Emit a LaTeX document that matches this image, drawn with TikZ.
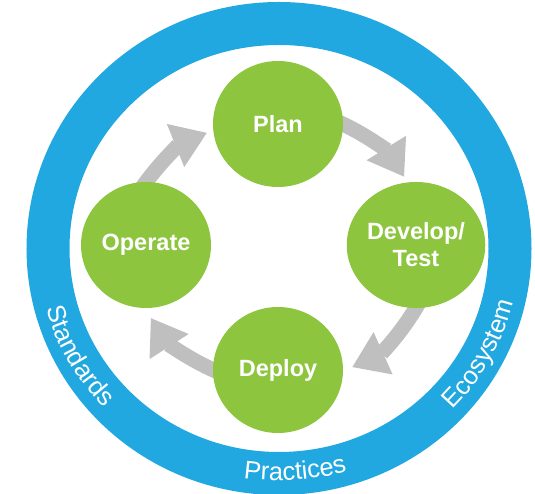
\documentclass[tikz,border=0pt]{standalone}
\usepackage{fontspec}
\setmainfont{Liberation Sans}
\usepackage{tikz}
\usetikzlibrary{arrows.meta,decorations.text,shapes.geometric}
\usepackage{xcolor}
\definecolor{ringblue}{HTML}{22A8E0}
\definecolor{stepgreen}{HTML}{8DC53F}
\definecolor{flowgray}{HTML}{BFBFBF}
\newcommand{\ringfont}{\fontsize{25.5}{25.5}\selectfont}
\pgfdeclarelayer{back}
\pgfsetlayers{back,main}

\begin{document}
\begin{tikzpicture}[x=1pt,y=1pt,
    stepnode/.style={ellipse,fill=stepgreen,text=white,minimum width=130pt,minimum height=126pt,
      inner sep=0pt,align=center,font=\fontsize{23.5}{27}\selectfont\bfseries},
    flow/.style={draw=flowgray,line width=15pt,shorten <=-10pt,-{Triangle[width=44pt,length=34pt]}},
    ringtext/.style={decorate,decoration={text along path,text color=white,text align=center,text={#1}}}]
  \useasboundingbox (0,0) rectangle (535,494);
  \coordinate (hub) at (279,245.5);
  % the four steps
  \node[stepnode] (plan) at (278,370) {Plan};
  \node[stepnode] (develop) at (416,249) {Develop/\\Test};
  \node[stepnode] (deploy) at (278,124) {Deploy};
  \node[stepnode] (operate) at (146,249) {Operate};
  \begin{pgfonlayer}{back}
    % background ring
    \draw[ringblue,line width=43pt] (hub) ellipse [x radius=231pt,y radius=225pt];
    % arrows between the steps
    \foreach \from/\sa/\ea/\r in {plan.east/66.3/31.8/136.2,develop.south/-28.8/-65.8/137.1,
                                  deploy.west/-112.7/-147.3/136.2,operate.north/145.5/112/135.9}
      \draw[flow] (\from) arc[start angle=\sa,end angle=\ea,radius=\r];
  \end{pgfonlayer}
  % words on the ring
  \path[ringtext={|\ringfont|Standards}] (hub) ++(179:241pt and 232pt)
    arc[start angle=179,end angle=239,x radius=241pt,y radius=232pt];
  \path[ringtext={|\ringfont|Practices}] (hub) ++(-116:241pt and 232pt)
    arc[start angle=-116,end angle=-56,x radius=241pt,y radius=232pt];
  \path[ringtext={|\ringfont|Ecosystem}] (hub) ++(-58.5:241pt and 232pt)
    arc[start angle=-58.5,end angle=1.5,x radius=241pt,y radius=232pt];
\end{tikzpicture}
\end{document}
